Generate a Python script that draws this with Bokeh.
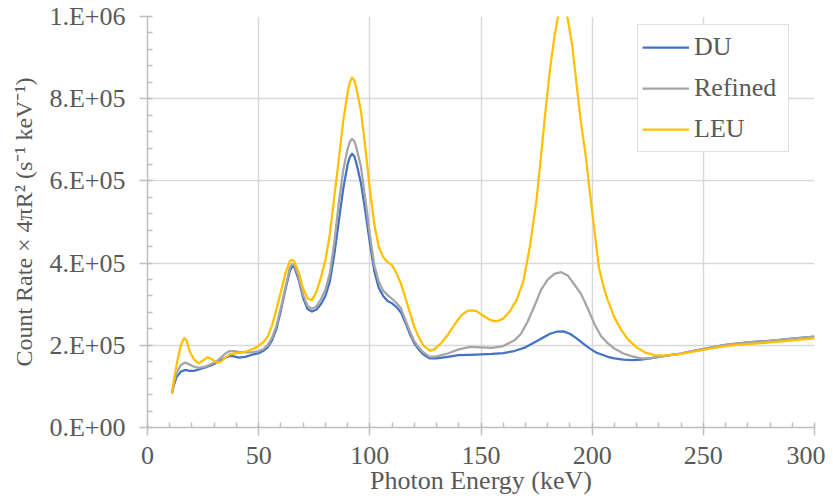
from bokeh.plotting import figure
from bokeh.models import FixedTicker, Legend, LegendItem, Range1d
from bokeh.embed import file_html
from bokeh.resources import INLINE

# ---- data, values in units of 1e6 s^-1 keV^-1 ----
du_energy = [11, 12, 13, 15, 17, 19, 21, 23, 26, 29, 32, 35, 37, 39, 41, 44, 47, 50, 52, 54,
             56, 58, 60, 62, 64, 65, 66, 68, 70, 72, 74, 76, 78, 80, 82, 84, 86, 88, 90, 91,
             92, 93, 94, 96, 98, 100, 102, 104, 106, 108, 110, 112, 114, 116, 118, 120, 122,
             124, 127, 130, 135, 140, 145, 150, 155, 160, 165, 170, 175, 178, 181, 184, 187,
             190, 193, 196, 199, 202, 207, 210, 214, 218, 222, 226, 230, 235, 240, 245, 250,
             255, 260, 265, 270, 280, 290, 300]
du = [0.083, 0.105, 0.122, 0.136, 0.140, 0.138, 0.138, 0.141, 0.146, 0.152, 0.160, 0.170,
      0.174, 0.173, 0.170, 0.172, 0.177, 0.181, 0.186, 0.195, 0.212, 0.240, 0.285, 0.335,
      0.380, 0.392, 0.390, 0.360, 0.315, 0.288, 0.282, 0.287, 0.300, 0.320, 0.355, 0.420,
      0.500, 0.580, 0.640, 0.658, 0.666, 0.660, 0.642, 0.595, 0.525, 0.450, 0.380, 0.340,
      0.320, 0.308, 0.302, 0.293, 0.280, 0.255, 0.228, 0.205, 0.190, 0.178, 0.168, 0.168,
      0.172, 0.176, 0.177, 0.178, 0.179, 0.181, 0.186, 0.195, 0.210, 0.219, 0.228, 0.233,
      0.234, 0.228, 0.217, 0.204, 0.192, 0.182, 0.172, 0.168, 0.165, 0.164, 0.165, 0.168,
      0.172, 0.176, 0.180, 0.186, 0.191, 0.196, 0.201, 0.204, 0.207, 0.211, 0.216, 0.221]

refined_energy = [11, 12, 13, 15, 17, 19, 21, 23, 26, 29, 32, 35, 37, 39, 41, 44, 47, 50, 52,
                  54, 56, 58, 60, 62, 64, 65, 66, 68, 70, 72, 74, 76, 78, 80, 82, 84, 86, 88,
                  90, 91, 92, 93, 94, 96, 98, 100, 102, 104, 106, 108, 110, 112, 114, 116, 118,
                  120, 122, 124, 127, 130, 135, 140, 145, 150, 155, 160, 165, 168, 171, 174,
                  177, 180, 183, 186, 189, 192, 195, 198, 201, 204, 207, 210, 214, 218, 222,
                  226, 230, 235, 240, 245, 250, 255, 260, 265, 270, 280, 290, 300]
refined = [0.083, 0.112, 0.132, 0.152, 0.158, 0.153, 0.148, 0.145, 0.148, 0.155, 0.165, 0.180,
           0.186, 0.186, 0.184, 0.183, 0.183, 0.186, 0.190, 0.200, 0.218, 0.248, 0.292, 0.340,
           0.388, 0.398, 0.395, 0.367, 0.322, 0.296, 0.289, 0.295, 0.312, 0.335, 0.375, 0.450,
           0.545, 0.625, 0.678, 0.695, 0.702, 0.697, 0.680, 0.635, 0.555, 0.470, 0.395, 0.355,
           0.333, 0.322, 0.313, 0.303, 0.290, 0.262, 0.234, 0.210, 0.195, 0.183, 0.172, 0.173,
           0.180, 0.190, 0.196, 0.195, 0.194, 0.198, 0.212, 0.228, 0.258, 0.295, 0.335, 0.360,
           0.374, 0.378, 0.370, 0.348, 0.325, 0.290, 0.252, 0.222, 0.205, 0.192, 0.180, 0.173,
           0.168, 0.168, 0.172, 0.176, 0.180, 0.186, 0.191, 0.196, 0.201, 0.204, 0.207, 0.211,
           0.216, 0.221]

leu_energy = [11, 12, 13, 14, 15, 16.5, 17.5, 19, 21, 23, 25, 27, 29, 31, 33, 35, 37, 40, 43,
              46, 49, 52, 54, 56, 58, 60, 62, 64, 65, 66, 68, 70, 72, 74, 76, 78, 80, 82, 84,
              86, 88, 90, 91, 92, 93, 94, 96, 98, 100, 102, 104, 106, 108, 110, 112, 114, 116,
              118, 120, 122, 124, 127, 129, 132, 135, 138, 141, 144, 146, 148, 151, 154, 156,
              158, 160, 163, 166, 169, 172, 175, 177, 179, 181, 183, 185, 187, 189, 191, 193,
              195, 197, 199, 201, 203, 205, 207, 210, 213, 216, 220, 224, 228, 232, 236, 240,
              245, 250, 255, 260, 265, 270, 280, 290, 300]
leu = [0.083, 0.120, 0.150, 0.175, 0.200, 0.218, 0.212, 0.185, 0.165, 0.156, 0.163, 0.171,
       0.166, 0.158, 0.160, 0.170, 0.178, 0.181, 0.183, 0.188, 0.195, 0.207, 0.220, 0.248,
       0.288, 0.330, 0.375, 0.405, 0.408, 0.404, 0.378, 0.338, 0.314, 0.310, 0.330, 0.365,
       0.406, 0.470, 0.560, 0.650, 0.745, 0.815, 0.840, 0.851, 0.845, 0.825, 0.770, 0.680,
       0.580, 0.495, 0.440, 0.415, 0.402, 0.395, 0.375, 0.350, 0.315, 0.280, 0.245, 0.220,
       0.200, 0.187, 0.190, 0.205, 0.225, 0.250, 0.272, 0.284, 0.285, 0.283, 0.272, 0.262,
       0.259, 0.260, 0.265, 0.283, 0.310, 0.355, 0.440, 0.555, 0.660, 0.770, 0.870, 0.950,
       1.010, 1.030, 0.995, 0.930, 0.835, 0.740, 0.665, 0.570, 0.480, 0.390, 0.345, 0.310,
       0.268, 0.238, 0.215, 0.195, 0.182, 0.176, 0.175, 0.177, 0.179, 0.184, 0.189, 0.194,
       0.198, 0.201, 0.203, 0.207, 0.212, 0.217]

scale = 1e6
series_names = ["DU", "Refined", "LEU"]
series_colors = ["#4472C4", "#A5A5A5", "#FFC000"]

x_ticks = [0, 50, 100, 150, 200, 250, 300]
y_ticks = [0, 200000, 400000, 600000, 800000, 1000000]
y_tick_labels = ["0.E+00", "2.E+05", "4.E+05", "6.E+05", "8.E+05", "1.E+06"]

FONT = "'Liberation Serif', 'Times New Roman', serif"
TXT = "#595959"
FS = "26px"

p = figure(width=825, height=499, output_backend="svg", toolbar_location=None,
           x_range=Range1d(0, 300), y_range=Range1d(0, 1000000),
           min_border_left=147, min_border_right=11, min_border_top=16, min_border_bottom=72)
p.outline_line_color = None
p.background_fill_color = "white"

renderers = []
for xs, ys, c in [(du_energy, du, series_colors[0]),
                  (refined_energy, refined, series_colors[1]),
                  (leu_energy, leu, series_colors[2])]:
    assert len(xs) == len(ys)
    r = p.line(list(xs), [v * scale for v in ys], line_color=c, line_width=2.25,
               line_join="round")
    renderers.append(r)

# axes
x_minor = list(range(0, 301, 10))
y_minor = list(range(0, 1000001, 40000))
p.xaxis.ticker = FixedTicker(ticks=x_ticks, minor_ticks=x_minor)
p.yaxis.ticker = FixedTicker(ticks=y_ticks, minor_ticks=y_minor)
p.yaxis.major_label_overrides = {t: l for t, l in zip(y_ticks, y_tick_labels)}

for ax in (p.xaxis, p.yaxis):
    ax.axis_line_color = "#BFBFBF"
    ax.axis_line_width = 1.5
    ax.major_tick_line_color = "#BFBFBF"
    ax.minor_tick_line_color = "#BFBFBF"
    ax.major_tick_line_width = 1.5
    ax.minor_tick_line_width = 1.5
    ax.major_tick_out = 8
    ax.major_tick_in = 2
    ax.minor_tick_in = 5
    ax.minor_tick_out = 0
    ax.major_label_text_font = FONT
    ax.major_label_text_font_size = FS
    ax.major_label_text_color = TXT
    ax.axis_label_text_font = FONT
    ax.axis_label_text_font_size = FS
    ax.axis_label_text_color = TXT
    ax.axis_label_text_font_style = "normal"

p.xaxis.axis_label = "Photon Energy (keV)"
p.yaxis.axis_label = "Count Rate \u00d7 4\u03c0R\u00b2 (s\u207b\u00b9 keV\u207b\u00b9)"
p.yaxis.axis_label_text_font_size = "24px"
p.xaxis.major_label_standoff = 11
p.xaxis.axis_label_standoff = -1
p.yaxis.major_label_standoff = 14
p.yaxis.axis_label_standoff = 9

p.xgrid.ticker = FixedTicker(ticks=x_ticks)
p.ygrid.ticker = FixedTicker(ticks=y_ticks)
for g in (p.xgrid, p.ygrid):
    g.grid_line_color = "#D9D9D9"
    g.grid_line_width = 1.5

legend = Legend(items=[LegendItem(label=n, renderers=[r]) for n, r in zip(series_names, renderers)],
                location=(490, 275))
legend.border_line_color = "#BFBFBF"
legend.border_line_width = 1.5
legend.background_fill_color = "white"
legend.background_fill_alpha = 1
legend.label_text_font = FONT
legend.label_text_font_size = FS
legend.label_text_color = TXT
legend.glyph_width = 47
legend.glyph_height = 36
legend.label_height = 36
legend.label_width = 90
legend.label_standoff = 5
legend.spacing = 5
legend.padding = 4
legend.margin = 0
p.add_layout(legend)

open("out.html", "w").write(file_html(p, INLINE))
